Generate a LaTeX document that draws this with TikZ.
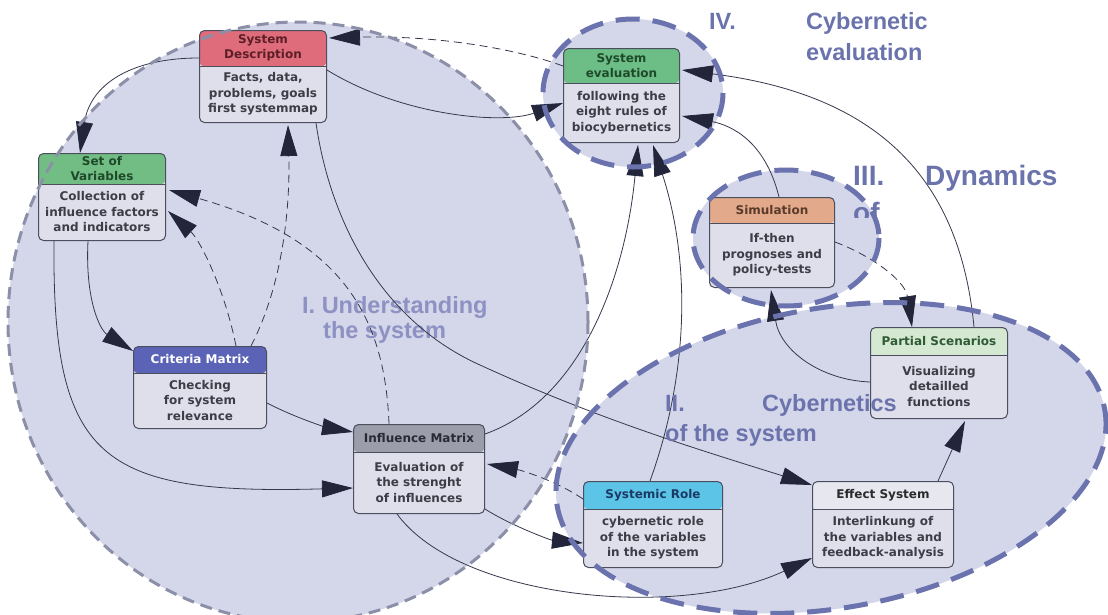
\documentclass[tikz,border=0pt]{standalone}
\usepackage{fontspec}
\setmainfont{DejaVu Sans}
\newfontfamily\lblfont{Liberation Sans}
\usetikzlibrary{arrows.meta,calc}
\definecolor{regfill}{HTML}{D4D6EA}
\definecolor{regline}{HTML}{6B73AE}
\definecolor{regonegray}{HTML}{8C8FA8}
\definecolor{boxline}{HTML}{4B4E5C}
\definecolor{bodyfill}{HTML}{DEDFEA}
\definecolor{bodytext}{HTML}{3D3D48}
\definecolor{conline}{HTML}{36384A}
\definecolor{arrowc}{HTML}{23263A}
\definecolor{lblc}{HTML}{6B73AD}
\definecolor{lblone}{HTML}{8D92C2}
\definecolor{sdF}{HTML}{DF6C7A}\definecolor{sdT}{HTML}{5C1E27}
\definecolor{svF}{HTML}{72BD84}\definecolor{svT}{HTML}{1F4A2A}
\definecolor{seF}{HTML}{6CBD86}\definecolor{seT}{HTML}{1F4A2A}
\definecolor{simF}{HTML}{E2A98A}\definecolor{simT}{HTML}{5A3A2A}
\definecolor{cmF}{HTML}{5B63B7}\definecolor{cmT}{HTML}{FFFFFF}
\definecolor{imF}{HTML}{9C9DAB}\definecolor{imT}{HTML}{2A2A35}
\definecolor{psF}{HTML}{D5E8D2}\definecolor{psT}{HTML}{2F5A35}
\definecolor{srF}{HTML}{5CC4E6}\definecolor{srT}{HTML}{1A3A66}
\definecolor{esF}{HTML}{E7E8EF}\definecolor{esT}{HTML}{2A2A2A}
\pgfdeclarelayer{bg}\pgfdeclarelayer{mid}\pgfdeclarelayer{fg}
\pgfsetlayers{bg,mid,main,fg}
\tikzset{
  box/.style={draw=boxline, line width=1pt, rounded corners=5pt, fill=bodyfill, inner sep=0pt, anchor=north west},
  htext/.style={font=\fontsize{12}{14.5}\selectfont\bfseries, align=center, inner sep=0pt},
  btext/.style={font=\fontsize{12}{15.5}\selectfont\bfseries, align=center, inner sep=0pt, text=bodytext},
  hdrline/.style={draw=boxline, line width=1.3pt},
  con/.style={draw=conline, line width=0.8pt, -{Triangle[length=31pt,width=17pt,color=arrowc]}},
  dcon/.style={con, dash pattern=on 8pt off 5pt},
  regborder/.style={draw=regline, line width=5pt, dash pattern=on 24pt off 13pt},
  regoneborder/.style={draw=regonegray, line width=3pt, dash pattern=on 12pt off 7pt},
  lbl/.style={font=\lblfont\bfseries\fontsize{23.5}{28}\selectfont, text=lblc, inner sep=0pt, anchor=base west},
  lblbig/.style={lbl, font=\lblfont\bfseries\fontsize{28}{32}\selectfont},
}
\newcommand\mkbox[9]{%
  \node[box, minimum width=#4pt, minimum height=#5pt,
    path picture={\fill[#7F] (path picture bounding box.north west) rectangle ([yshift=-#6pt]path picture bounding box.north east);
      \draw[hdrline] ([yshift=-#6pt]path picture bounding box.north west) -- ([yshift=-#6pt]path picture bounding box.north east);}] (#1) at (#2,#3) {};
  \node[htext, text=#7T] (#1-h) at ($(#1.north)+(0,#6/2)$) {#8};
  \node[btext] (#1-b) at ($(#1.north)+(0,{(#5+#6)/2})$) {#9};
}
\begin{document}
\begin{tikzpicture}[x=1pt,y=-1pt]
\useasboundingbox (0,0) rectangle (1108,614);
\begin{pgfonlayer}{bg}
\fill[white] (0,0) rectangle (1108,614);
\fill[regfill] (298,322) ellipse [x radius=290, y radius=300];
\fill[regfill, rotate around={10:(831,458)}] (831,458) ellipse [x radius=278, y radius=150];
\fill[regfill] (786,238) ellipse [x radius=93, y radius=68];
\fill[regfill] (633,93) ellipse [x radius=90, y radius=74];
\node[lbl, text=lblone] (l1a) at (302,313) {I. Understanding};
\node[lbl, text=lblone] (l1b) at (323,338) {the system};
\end{pgfonlayer}

% boxes
\mkbox{sd}{199}{30}{127}{92}{36}{sd}{System\\Description}{Facts, data,\\problems, goals\\first systemmap}
\mkbox{sv}{38}{153}{127}{87}{31}{sv}{Set of\\Variables}{Collection of\\influence factors\\and indicators}
\mkbox{se}{563}{48}{116}{94}{35}{se}{System\\evaluation}{following the\\eight rules of\\biocybernetics}
\mkbox{sim}{709}{197}{125}{90}{26}{sim}{Simulation}{If-then\\prognoses and\\policy-tests}
\mkbox{cm}{133}{346}{133}{82}{27}{cm}{Criteria Matrix}{Checking\\for system\\relevance}
\mkbox{im}{353}{424}{131}{89}{28}{im}{Influence Matrix}{Evaluation of\\the strenght\\of influences}
\mkbox{ps}{870}{327}{137}{91}{28}{ps}{Partial Scenarios}{Visualizing\\detailled\\functions}
\mkbox{sr}{583}{481}{139}{86}{28}{sr}{Systemic Role}{cybernetic role\\of the variables\\in the system}
\mkbox{es}{812}{481}{141}{86}{28}{es}{Effect System}{Interlinkung of\\the variables and\\feedback-analysis}

\begin{pgfonlayer}{mid}
\draw[con] ($(sd.north east)+(0,40)$) .. controls (400,115) and (500,125) .. ($(se.north west)+(0,55)$);
\draw[dcon] ($(se.north west)+(0,18)$) .. controls (520,50) and (440,35) .. ($(sd.north east)+(2,8)$);
\draw[con] ($(sd.north west)+(0,28)$) .. controls (130,58) and (90,85) .. ($(sv.north west)+(42,0)$);
\draw[con] ($(sv.south west)+(50,0)$) .. controls (85,300) and (100,330) .. ($(cm.north west)+(0,5)$);
\draw[con] ($(sv.south west)+(16,0)$) .. controls (52,460) and (100,495) .. ($(im.north west)+(0,64)$);
\draw[con] ($(cm.north east)+(0,57)$) .. controls (300,420) and (330,428) .. ($(im.north west)+(0,8)$);
\draw[dcon] ($(cm.north west)+(103,0)$) .. controls (225,290) and (200,240) .. ($(sv.north east)+(2,58)$);
\draw[dcon] ($(cm.north west)+(118,0)$) .. controls (285,280) and (290,200) .. ($(sd.south west)+(89,2)$);
\draw[dcon] ($(im.north west)+(36,0)$) .. controls (385,320) and (345,240) .. ($(sv.north east)+(3,37)$);
\draw[con] ($(sd.south west)+(117,0)$) .. controls (330,220) and (380,320) .. (480,365) .. controls (600,420) and (700,450) .. ($(es.north west)+(0,4)$);
\draw[con] ($(im.north east)+(0,10)$) .. controls (580,400) and (625,280) .. ($(se.south west)+(75,2)$);
\draw[con] ($(sr.north west)+(67,0)$) .. controls (690,370) and (690,260) .. ($(se.south west)+(90,2)$);
\draw[con] ($(im.south east)+(0,-5)$) .. controls (510,525) and (550,540) .. ($(sr.north west)+(0,62)$);
\draw[dcon] ($(sr.north west)+(0,18)$) .. controls (555,480) and (520,470) .. ($(im.north east)+(2,40)$);
\draw[con] ($(im.south west)+(44,0)$) .. controls (460,600) and (680,620) .. ($(es.south west)+(0,-10)$);
\draw[con] ($(es.north east)+(-16,0)$) -- ($(ps.south west)+(95,2)$);
\draw[con] ($(ps.north west)+(0,55)$) .. controls (820,380) and (780,350) .. ($(sim.south west)+(62,2)$);
\draw[dcon] ($(sim.north east)+(0,45)$) .. controls (870,255) and (905,280) .. ($(ps.north west)+(42,0)$);
\draw[con] ($(sim.north west)+(70,0)$) .. controls (765,140) and (730,125) .. ($(se.north east)+(2,68)$);
\draw[con] ($(ps.north west)+(104,0)$) .. controls (960,180) and (880,95) .. ($(se.north east)+(2,22)$);
\end{pgfonlayer}

\begin{pgfonlayer}{fg}
\draw[regoneborder] (298,322) ellipse [x radius=290, y radius=300];
\draw[regborder, rotate around={10:(831,458)}] (831,458) ellipse [x radius=278, y radius=150];
\draw[regborder] (786,238) ellipse [x radius=93, y radius=68];
\draw[regborder] (633,93) ellipse [x radius=90, y radius=74];
\node[lbl] (l4a) at (709,29) {IV.};
\node[lbl] (l4b) at (806,29) {Cybernetic};
\node[lbl] (l4c) at (806,60) {evaluation};
\node[lblbig] (l3a) at (853,185) {III.};
\node[lblbig] (l3b) at (925,185) {Dynamics};
\begin{scope}
\clip (840,195) rectangle (905,217);
\node[lblbig] (l3c) at (853,222) {of};
\end{scope}
\node[lbl] (l2a) at (665,411) {II.};
\node[lbl] (l2b) at (762,411) {Cybernetics};
\node[lbl] (l2c) at (665,441) {of the system};
\end{pgfonlayer}
\end{tikzpicture}
\end{document}
